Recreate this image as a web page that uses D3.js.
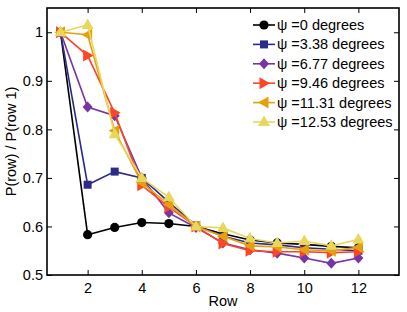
<!DOCTYPE html>
<html>
<head>
<meta charset="utf-8">
<script src="https://cdn.jsdelivr.net/npm/d3@7"></script>
<style>
body { margin: 0; background: #fff; }
svg { font-family: "Liberation Sans", Arial, sans-serif; }
</style>
</head>
<body>
<svg id="chart" width="407" height="312"></svg>
<script>
// data
let rows = [1, 2, 3, 4, 5, 6, 7, 8, 9, 10, 11, 12];
let names = ["\u03c8 =0 degrees", "\u03c8 =3.38 degrees", "\u03c8 =6.77 degrees",
             "\u03c8 =9.46 degrees", "\u03c8 =11.31 degrees", "\u03c8 =12.53 degrees"];
let psi0  = [1, 0.583, 0.598, 0.608, 0.606, 0.600, 0.585, 0.572, 0.566, 0.563, 0.559, 0.556];
let psi1  = [1, 0.686, 0.713, 0.700, 0.650, 0.602, 0.580, 0.566, 0.562, 0.556, 0.553, 0.550];
let psi2  = [1, 0.846, 0.828, 0.700, 0.628, 0.598, 0.566, 0.552, 0.545, 0.535, 0.524, 0.535];
let psi3  = [1, 0.952, 0.834, 0.685, 0.640, 0.600, 0.565, 0.550, 0.548, 0.548, 0.546, 0.548];
let psi4  = [1, 0.995, 0.797, 0.690, 0.645, 0.600, 0.580, 0.560, 0.558, 0.552, 0.550, 0.557];
let psi5  = [1, 1.015, 0.790, 0.700, 0.660, 0.600, 0.597, 0.575, 0.566, 0.570, 0.560, 0.573];
let xTicks = [2, 4, 6, 8, 10, 12];
let yTicks = [0.5, 0.6, 0.7, 0.8, 0.9, 1];

let series = [psi0, psi1, psi2, psi3, psi4, psi5];
let colors = ["#000000", "#2d2a8a", "#7634a6", "#fd4527", "#e5a00e", "#e8d75c"];
let symbols = ["circle", "square", "diamond", "triRight", "triLeft", "triUp"];

var margin = {top: 8, right: 8, bottom: 37, left: 47},
    width = 407 - margin.left - margin.right,
    height = 312 - margin.top - margin.bottom;

var svg = d3.select("#chart");
var g = svg.append("g")
    .attr("transform", "translate(" + margin.left + "," + margin.top + ")");

var x = d3.scaleLinear().domain([0.5, 13.5]).range([0, width]);
var y = d3.scaleLinear().domain([0.5, 1.05]).range([height, 0]);

// markers
function marker(sel, kind, color) {
    if (kind == "circle") {
        sel.append("circle").attr("r", 4.6).attr("fill", color);
    } else if (kind == "square") {
        sel.append("rect").attr("x", -4).attr("y", -4).attr("width", 8).attr("height", 8).attr("fill", color);
    } else {
        var pts;
        if (kind == "diamond") pts = [[0, -5.5], [5, 0], [0, 5.5], [-5, 0]];
        if (kind == "triRight") pts = [[6, 0], [-4.5, -6], [-4.5, 6]];
        if (kind == "triLeft") pts = [[-6, 0], [4.5, -6], [4.5, 6]];
        if (kind == "triUp") pts = [[0, -6.5], [6, 4], [-6, 4]];
        sel.append("polygon").attr("points", pts.map(p => p.join(",")).join(" ")).attr("fill", color);
    }
}

var line = d3.line()
    .x(function(d, i) { return x(rows[i]); })
    .y(function(d) { return y(d); });

series.forEach(function(vals, k) {
    g.append("path")
        .attr("d", line(vals))
        .attr("fill", "none")
        .attr("stroke", colors[k])
        .attr("stroke-width", 1.6);
    vals.forEach(function(v, i) {
        var m = g.append("g").attr("transform", "translate(" + x(rows[i]) + "," + y(v) + ")");
        marker(m, symbols[k], colors[k]);
    });
});

// axes, matlab style box with inward ticks
var xAxis = d3.axisBottom(x).tickValues(xTicks).tickSize(-5).tickPadding(8);
var yAxis = d3.axisLeft(y).tickValues(yTicks).tickSize(-5).tickPadding(4).tickFormat(d3.format("~g"));
var xTop = d3.axisTop(x).tickValues(xTicks).tickSize(-5).tickFormat("");
var yRight = d3.axisRight(y).tickValues(yTicks).tickSize(-5).tickFormat("");

g.append("g").attr("class", "axis").attr("transform", "translate(0," + height + ")").call(xAxis);
g.append("g").attr("class", "axis").call(yAxis);
g.append("g").attr("class", "axis").call(xTop);
g.append("g").attr("class", "axis").attr("transform", "translate(" + width + ",0)").call(yRight);

g.selectAll(".axis .domain").remove();
g.selectAll(".axis line").attr("stroke", "#000").attr("stroke-width", 1);
g.selectAll(".axis text").attr("fill", "#000").attr("font-size", 14.5).attr("font-family", "Liberation Sans, Arial, sans-serif");

g.append("rect")
    .attr("width", width).attr("height", height)
    .attr("fill", "none").attr("stroke", "#000").attr("stroke-width", 1.6);

// labels
svg.append("text")
    .attr("x", margin.left + width / 2).attr("y", 306)
    .attr("text-anchor", "middle").attr("font-size", 14.5)
    .text("Row");
svg.append("text")
    .attr("transform", "translate(16," + (margin.top + height / 2) + ") rotate(-90)")
    .attr("text-anchor", "middle").attr("font-size", 14.5)
    .text("P(row) / P(row 1)");

// legend
var legend = svg.append("g").attr("transform", "translate(253,25)");
names.forEach(function(n, k) {
    var row = legend.append("g").attr("transform", "translate(0," + (k * 19.4) + ")");
    row.append("line").attr("x1", 0).attr("x2", 22).attr("stroke", colors[k]).attr("stroke-width", 1.6);
    var m = row.append("g").attr("transform", "translate(11,0)");
    marker(m, symbols[k], colors[k]);
    row.append("text").attr("x", 24).attr("y", 5).attr("font-size", 14.5).text(n);
});
</script>
</body>
</html>
